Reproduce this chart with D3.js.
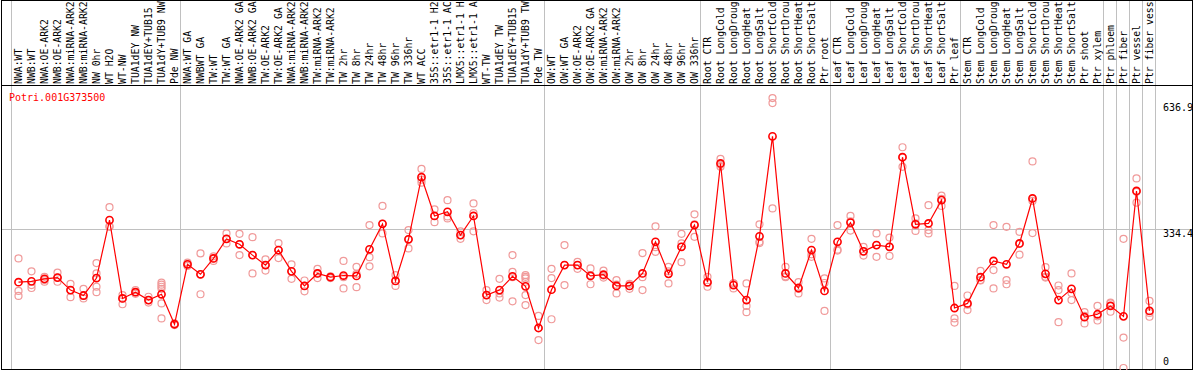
<!DOCTYPE html>
<html>
<head>
<meta charset="utf-8">
<script src="https://cdn.jsdelivr.net/npm/d3@7"></script>
<style>
  body { margin: 0; background: #fff; }
  text { font-family: "DejaVu Sans Mono", monospace; font-size: 10px; }
</style>
</head>
<body>
<div id="chart"></div>
<script>
var gene = "Potri.001G373500";

var samples = [
  "NWA:WT", "NWB:WT", "NWA:OE-ARK2", "NWB:OE-ARK2", "NWA:miRNA-ARK2", "NWB:miRNA-ARK2",
  "NW 0hr", "WT H2O", "WT-NW", "TUA1dEY NW", "TUA1dEY+TUB15 NW", "TUA1dY+TUB9 NW", "Pde NW",
  "NWA:WT GA", "NWBWT GA", "TW:WT", "TW:WT GA", "NWA:OE-ARK2 GA", "NWB:OE-ARK2 GA",
  "TW:OE-ARK2", "TW:OE-ARK2 GA", "NWA:miRNA-ARK2 GA", "NWB:miRNA-ARK2 GA", "TW:miRNA-ARK2",
  "TW:miRNA-ARK2 GA", "TW 2hr", "TW 8hr", "TW 24hr", "TW 48hr", "TW 96hr", "TW 336hr",
  "WT ACC", "35S::etr1-1 H2O", "35S::etr1-1 ACC", "LMX5::etr1-1 H2O", "LMX5::etr1-1 ACC",
  "WT-TW", "TUA1dEY TW", "TUA1dEY+TUB15 TW", "TUA1dY+TUB9 TW", "Pde TW",
  "OW:WT", "OW:WT GA", "OW:OE-ARK2", "OW:OE-ARK2 GA", "OW:miRNA-ARK2", "OW:miRNA-ARK2 GA",
  "OW 2hr", "OW 8hr", "OW 24hr", "OW 48hr", "OW 96hr", "OW 336hr",
  "Root CTR", "Root LongCold", "Root LongDrought", "Root LongHeat", "Root LongSalt",
  "Root ShortCold", "Root ShortDrought", "Root ShortHeat", "Root ShortSalt", "Ptr root",
  "Leaf CTR", "Leaf LongCold", "Leaf LongDrought", "Leaf LongHeat", "Leaf LongSalt",
  "Leaf ShortCold", "Leaf ShortDrought", "Leaf ShortHeat", "Leaf ShortSalt", "Ptr leaf",
  "Stem CTR", "Stem LongCold", "Stem LongDrought", "Stem LongHeat", "Stem LongSalt",
  "Stem ShortCold", "Stem ShortDrought", "Stem ShortHeat", "Stem ShortSalt", "Ptr shoot",
  "Ptr xylem", "Ptr phloem", "Ptr fiber", "Ptr vessel", "Ptr fiber vessel"
];

// index of the first sample of each group (grey separators)
var groupStarts = [0, 13, 41, 53, 63, 73, 84, 85, 86, 87, 88];

var means = [
  206, 208, 214, 217, 187, 174, 216, 355, 167, 182, 163, 177, 105,
  249, 225, 263, 310, 297, 271, 247, 283, 232, 197, 227, 218, 222, 221, 285, 346,
  209, 309, 458, 365, 375, 319, 365, 175, 187, 220, 196, 96,
  188, 247, 247, 221, 224, 197, 197, 227, 303, 226, 291, 343,
  206, 491, 199, 163, 316, 556, 227, 192, 283, 185,
  303, 349, 280, 295, 291, 506, 345, 347, 403, 144,
  155, 218, 257, 249, 299, 407, 226, 163, 190, 122, 129,
  149, 124, 425, 137
];

var replicates = [
  [263, 185, 173], [232, 199, 192], [219, 211, 207], [229, 207, 217], [202, 170, 187],
  [190, 167, 173], [252, 227, 195, 182], [386, 339, 340], [175, 153, 167], [187, 178, 182],
  [171, 157, 163], [205, 200, 195, 190, 155, 119], [103, 105, 107],
  [245, 249, 253], [275, 177, 225], [257, 263, 268], [323, 299, 310], [322, 271, 297],
  [314, 227, 271], [261, 234, 247], [300, 264, 283], [249, 214, 232], [210, 184, 197],
  [238, 216, 227], [218, 216, 220], [257, 191, 218], [243, 194, 226], [343, 266, 244],
  [389, 323, 346], [223, 197, 209], [331, 287, 309], [478, 445, 452], [381, 350, 365],
  [403, 359, 364], [310, 319, 328], [395, 328, 372], [187, 163, 175], [214, 169, 179],
  [271, 231, 160, 218], [223, 219, 215, 207, 175, 151], [125, 67, 96],
  [238, 216, 117], [295, 199, 247], [255, 238, 247], [239, 201, 223], [234, 217, 222],
  [211, 179, 200], [202, 190, 197], [276, 187, 218], [340, 279, 290], [243, 203, 232],
  [322, 299, 254, 291], [369, 315, 345],
  [219, 195, 204], [502, 483, 488], [203, 191, 203], [203, 149, 134], [345, 303, 300],
  [648, 636, 383], [243, 218, 220], [206, 179, 190], [310, 267, 273], [215, 137, 204],
  [343, 282, 284], [365, 330, 352], [291, 270, 280], [323, 267, 295], [313, 269, 291],
  [530, 483, 506], [359, 329, 347], [391, 331, 323], [414, 389, 406], [197, 119, 109],
  [174, 139, 152], [233, 210, 211], [343, 235, 191], [339, 211, 201], [327, 272, 298],
  [496, 324, 401], [242, 217, 219], [198, 187, 110], [227, 163, 180], [134, 107, 125],
  [149, 114, 124],
  [157, 135, 155], [310, 73, 0], [455, 397, 423], [161, 123, 132]
];

var yTicks = [636.9, 334.4, 0];

var width = 1194, height = 370;
var headerH = 85.5;
var maxChars = 14; // the header only has room for this many

var svg = d3.select("#chart").append("svg")
  .attr("width", width)
  .attr("height", height);

var x = d3.scaleBand()
  .domain(d3.range(samples.length))
  .range([11, 1155])
  .padding(0);

var y = d3.scaleLinear()
  .domain([0, 636.9])
  .range([368, 102.7]);

var cx = function(i) { return x(i) + 7.5; };

// grey separators
svg.append("g").selectAll("line")
  .data(groupStarts)
  .join("line")
  .attr("x1", function(d) { return (d < samples.length ? x(d) : x.range()[1]) + 0.5; })
  .attr("x2", function(d) { return (d < samples.length ? x(d) : x.range()[1]) + 0.5; })
  .attr("y1", 0)
  .attr("y2", height)
  .attr("stroke", "#c0c0c0")
  .attr("stroke-width", 1);

// horizontal grey line at the middle tick
svg.append("line")
  .attr("x1", 2).attr("x2", 1192)
  .attr("y1", Math.round(y(334.4)) + 0.5)
  .attr("y2", Math.round(y(334.4)) + 0.5)
  .attr("stroke", "#c0c0c0");

// frame
svg.append("rect")
  .attr("x", 1.5).attr("y", 0.5)
  .attr("width", 1191).attr("height", 369)
  .attr("fill", "none").attr("stroke", "#000");
svg.append("line")
  .attr("x1", 1.5).attr("x2", 1192.5)
  .attr("y1", headerH).attr("y2", headerH)
  .attr("stroke", "#000");

// sample labels, rotated
svg.append("g").selectAll("text")
  .data(samples)
  .join("text")
  .attr("transform", function(d, i) { return "translate(" + (x(i) + 10.5) + ",84) rotate(-90)"; })
  .attr("fill", "#000")
  .style("font-size", "9.8px")
  .text(function(d) { return d.slice(0, maxChars).trim(); });

// gene name
svg.append("text")
  .attr("x", 9).attr("y", 101)
  .attr("fill", "#ff0000")
  .text(gene);

// right hand value labels
svg.append("g").selectAll("text")
  .data(yTicks)
  .join("text")
  .attr("x", 1163)
  .attr("y", function(d) { return d === 0 ? 365 : y(d) + 8; })
  .attr("fill", "#000")
  .text(function(d) { return d; });

// replicate points
var reps = [];
replicates.forEach(function(r, i) {
  r.forEach(function(v) { reps.push({ i: i, v: v }); });
});
svg.append("g").selectAll("circle")
  .data(reps)
  .join("circle")
  .attr("cx", function(d) { return cx(d.i); })
  .attr("cy", function(d) { return y(d.v); })
  .attr("r", 3.5)
  .attr("fill", "none")
  .attr("stroke", "#f09a9a")
  .attr("stroke-width", 1.2);

// mean line
var line = d3.line()
  .x(function(d, i) { return cx(i); })
  .y(function(d) { return y(d); });

svg.append("path")
  .datum(means)
  .attr("d", line)
  .attr("fill", "none")
  .attr("stroke", "#ff0000")
  .attr("stroke-width", 1.2);

svg.append("g").selectAll("circle")
  .data(means)
  .join("circle")
  .attr("cx", function(d, i) { return cx(i); })
  .attr("cy", function(d) { return y(d); })
  .attr("r", 3.6)
  .attr("fill", "none")
  .attr("stroke", "#ff0000")
  .attr("stroke-width", 1.6);
</script>
</body>
</html>
